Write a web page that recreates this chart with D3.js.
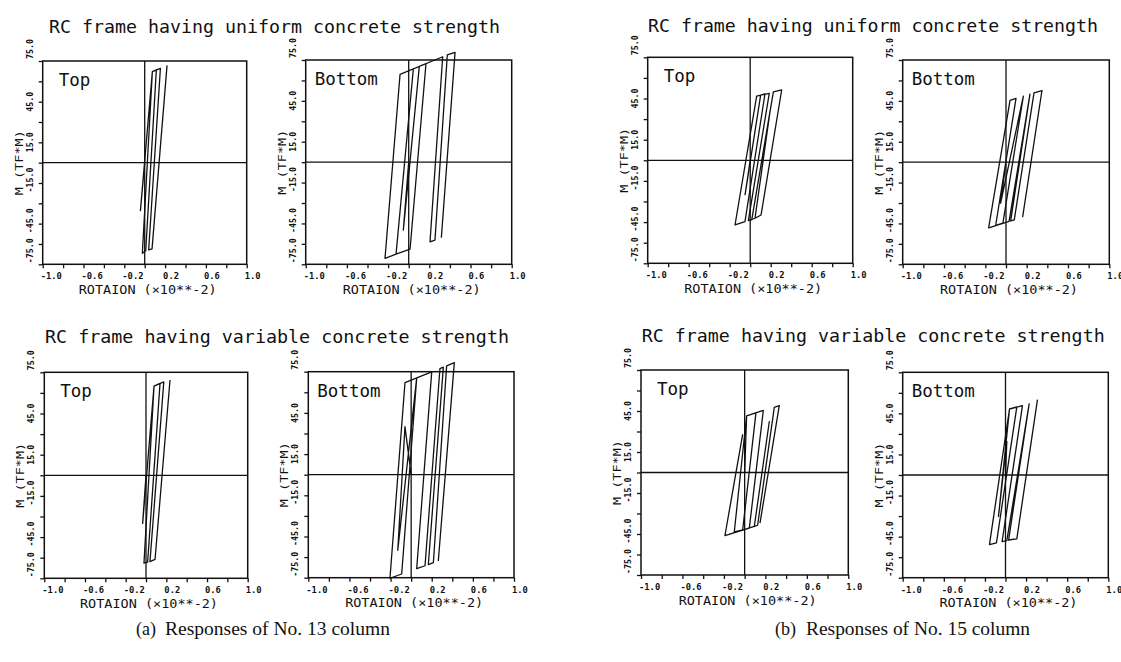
<!DOCTYPE html>
<html><head><meta charset="utf-8">
<script src="https://cdn.jsdelivr.net/npm/d3@7"></script>
<style>body{margin:0;background:#fff}svg{display:block}</style>
</head><body>
<svg id="c" width="1121" height="662"></svg>
<script>
// ---------- data ----------
const xTicks = [-1.0,-0.8,-0.6,-0.4,-0.2,0,0.2,0.4,0.6,0.8,1.0];
const xLabelValues = [-1.0,-0.6,-0.2,0.2,0.6,1.0];
const xTickLabels = ["-1.0","-0.6","-0.2","0.2","0.6","1.0"];
const yTicks = [75,60,45,30,15,0,-15,-30,-45,-60,-75];
const yLabelValues = [75,45,15,-15,-45,-75];
const yTickLabels = ["75.0","45.0","15.0","-15.0","-45.0","-75.0"];
const groupTitles = ["RC frame having uniform concrete strength","RC frame having variable concrete strength"];
const panelNames = ["Top","Bottom"];
const xTitle = "ROTAION (\u00d710**-2)";
const yTitle = "M (TF*M)";
const captionTags = ["(a)","(b)"];
const captionTexts = ["Responses of No. 13 column","Responses of No. 15 column"];

// rotation (x10^-2), moment (tf*m)
const topUniformA = [[0,0],[-0.042,-35.4],[0.075,67.1],[0.114,68.4],[0.010,-65],[-0.023,-66.9],[0.075,67.1],[0.154,69.6],[0.039,-64.4],[0.072,-63.6],[0.219,71.8]];
const bottomUniformA = [[0,0],[-0.052,-49.8],[0.103,70.3],[0.168,72.4],[0.013,-63.9],[-0.123,-67.6],[0.045,68.5],[-0.123,-67.6],[-0.23,-70.6],[-0.084,64.5],[0.33,77.4],[0.207,-58.5],[0.255,-57.2],[0.375,78.8],[0.45,80.6],[0.317,-55.5]];
const topVariableA = [[0,0],[-0.033,-35],[0.079,65],[0.138,67],[0.016,-63.3],[-0.02,-64],[0.079,65],[0.175,68],[0.039,-62.8],[0.089,-61.2],[0.236,69.4]];
const bottomVariableA = [[0,0],[-0.06,35],[-0.13,-55],[0.054,70.5],[-0.092,-72.3],[-0.206,-75.4],[-0.06,67],[0.20,74.9],[0.054,-68.4],[0.135,-66.3],[0.28,77.3],[0.313,78.3],[0.167,-65.4],[0.216,-64.1],[0.345,79.3],[0.42,81.6],[0.264,-62.8]];
const topUniformB = [[0,0],[-0.05,-25],[0.102,47.5],[0.144,48.3],[-0.051,-44.6],[-0.148,-47.1],[0.063,46.8],[0.186,48.8],[-0.018,-43.9],[0.047,-42.2],[0.193,35.4],[0.015,-43.4],[0.226,49.8],[0.307,51.2],[0.106,-39.8],[0.047,-42.2]];
const bottomUniformB = [[0,0],[-0.052,-30.1],[0.168,48.5],[-0.03,-44.8],[-0.10,-46.5],[0.097,46.8],[0.039,45.3],[-0.168,-48.2],[0.03,-43.5],[0.232,49.9],[0.045,-43.2],[0.08,-42.4],[0.271,50.8],[0.348,52.6],[0.161,-40.4]];
const topVariableB = [[0,0],[0.019,41.5],[0.109,43.6],[-0.019,-42],[-0.10,-43.5],[0.019,41.5],[0.18,45.4],[0.045,-40.7],[-0.19,-46.1],[-0.02,27.6],[-0.19,-46.1],[0.093,-39.5],[0.238,37.3],[0.093,-39.5],[0.125,-38.6],[0.286,47.6],[0.334,49],[0.148,-37.1]];
const bottomVariableB = [[0,0],[0.013,24.6],[-0.068,-30.2],[0.039,48.2],[0.110,49.7],[-0.088,-49.5],[-0.156,-50.9],[0.039,48.2],[0.165,50.6],[-0.033,-48.6],[0.013,-47.9],[0.23,51.9],[0.03,-47.6],[0.062,-47.1],[0.110,-46.7],[0.311,55]];

// ---------- layout ----------
const panels = [
  {data: topUniformA,     name: 0, box: [42.7, 61, 246.7, 264.3]},
  {data: bottomUniformA,  name: 1, box: [305.7, 60, 511.7, 264.3]},
  {data: topUniformB,     name: 0, box: [647.7, 57.3, 852.7, 263.3]},
  {data: bottomUniformB,  name: 1, box: [902.7, 60, 1109.3, 264.3]},
  {data: topVariableA,    name: 0, box: [44.3, 372.3, 247.7, 578.3]},
  {data: bottomVariableA, name: 1, box: [308.3, 371.7, 514, 577.7]},
  {data: topVariableB,    name: 0, box: [641, 370, 848.3, 575]},
  {data: bottomVariableB, name: 1, box: [902.7, 372.3, 1108.3, 577.7]}
];
const titlePos = [
  {t: 0, x: 49, y: 32.5, w: 451},
  {t: 0, x: 648, y: 32, w: 450},
  {t: 1, x: 45, y: 342.5, w: 464},
  {t: 1, x: 641.7, y: 342, w: 463}
];
const captionPos = [{x: 136, x2: 165, w: 225, y: 635}, {x: 775, x2: 806, w: 224, y: 635}];

const svg = d3.select("#c");
const mono = "'DejaVu Sans Mono', 'Liberation Mono', monospace";
const ink = "#111";

titlePos.forEach(p => {
  svg.append("text").attr("x", p.x).attr("y", p.y)
    .attr("font-family", mono).attr("font-size", 18.5)
    .attr("textLength", p.w).attr("lengthAdjust", "spacingAndGlyphs")
    .attr("fill", ink).text(groupTitles[p.t]);
});

panels.forEach(p => {
  const [x0, y0, x1, y1] = p.box;
  const x = d3.scaleLinear().domain([-1, 1]).range([x0, x1]);
  const y = d3.scaleLinear().domain([-75, 75]).range([y1, y0]);
  const g = svg.append("g");

  g.append("g").attr("transform", `translate(${x0},0)`)
    .call(d3.axisLeft(y).tickValues(yTicks).tickSize(4).tickFormat(""))
    .call(a => a.select(".domain").remove())
    .call(a => a.selectAll("line").attr("stroke", ink).attr("stroke-width", 1.3));
  g.append("g").attr("transform", `translate(0,${y1})`)
    .call(d3.axisBottom(x).tickValues(xTicks).tickSize(4).tickFormat(""))
    .call(a => a.select(".domain").remove())
    .call(a => a.selectAll("line").attr("stroke", ink).attr("stroke-width", 1.3));

  g.append("rect").attr("x", x0).attr("y", y0).attr("width", x1 - x0).attr("height", y1 - y0)
    .attr("fill", "none").attr("stroke", ink).attr("stroke-width", 1.5);
  g.append("line").attr("x1", x0).attr("x2", x1).attr("y1", y(0)).attr("y2", y(0))
    .attr("stroke", ink).attr("stroke-width", 1.3);
  g.append("line").attr("x1", x(0)).attr("x2", x(0)).attr("y1", y0).attr("y2", y1)
    .attr("stroke", ink).attr("stroke-width", 1.3);

  // x tick labels
  xLabelValues.forEach((v, i) => {
    const s = xTickLabels[i];
    g.append("text").attr("x", x(v) - 2).attr("y", y1 + 15)
      .attr("font-family", mono).attr("font-size", 8.5).attr("font-weight", "bold")
      .attr("textLength", s.length * 5.3).attr("lengthAdjust", "spacingAndGlyphs")
      .attr("fill", ink).text(s);
  });
  // y tick labels (rotated)
  yLabelValues.forEach((v, i) => {
    const s = yTickLabels[i];
    const last = yLabelValues.length - 1;
    let anchor = "middle", py = y(v) - (v < 0 ? 3 : 0);
    if (i === 0) { anchor = "start"; py = y0 - 2; }
    if (i === last) { anchor = "start"; py = y1 - 1; }
    g.append("text").attr("transform", `translate(${x0 - 10},${py}) rotate(-90)`)
      .attr("text-anchor", anchor)
      .attr("font-family", mono).attr("font-size", 8.5).attr("font-weight", "bold")
      .attr("textLength", s.length * 5).attr("lengthAdjust", "spacingAndGlyphs")
      .attr("fill", ink).text(s);
  });
  // axis titles
  g.append("text").attr("x", (x0 + x1) / 2 + 3).attr("y", y1 + 29.5)
    .attr("text-anchor", "middle").attr("font-family", mono).attr("font-size", 13)
    .attr("textLength", 138).attr("lengthAdjust", "spacingAndGlyphs")
    .attr("fill", ink).text(xTitle);
  g.append("text").attr("transform", `translate(${x0 - 20},${(y0 + y1) / 2}) rotate(-90)`)
    .attr("text-anchor", "middle").attr("font-family", mono).attr("font-size", 11)
    .attr("textLength", 65).attr("lengthAdjust", "spacingAndGlyphs")
    .attr("fill", ink).text(yTitle);

  g.append("text").attr("x", x0 + (p.name === 0 ? 16 : 9)).attr("y", y0 + 25)
    .attr("font-family", mono).attr("font-size", 17.5).attr("fill", ink)
    .text(panelNames[p.name]);

  const line = d3.line().x(d => x(d[0])).y(d => y(d[1]));
  g.append("path").datum(p.data).attr("d", line)
    .attr("fill", "none").attr("stroke", ink).attr("stroke-width", 1.3)
    .attr("stroke-linejoin", "round");
});

const serif = "'Liberation Serif', 'DejaVu Serif', serif";
captionPos.forEach((c, i) => {
  svg.append("text").attr("x", c.x).attr("y", c.y)
    .attr("font-family", serif).attr("font-size", 18).attr("fill", ink).text(captionTags[i]);
  svg.append("text").attr("x", c.x2).attr("y", c.y)
    .attr("font-family", serif).attr("font-size", 19.5)
    .attr("textLength", c.w).attr("lengthAdjust", "spacingAndGlyphs")
    .attr("fill", ink).text(captionTexts[i]);
});
</script>
</body></html>
